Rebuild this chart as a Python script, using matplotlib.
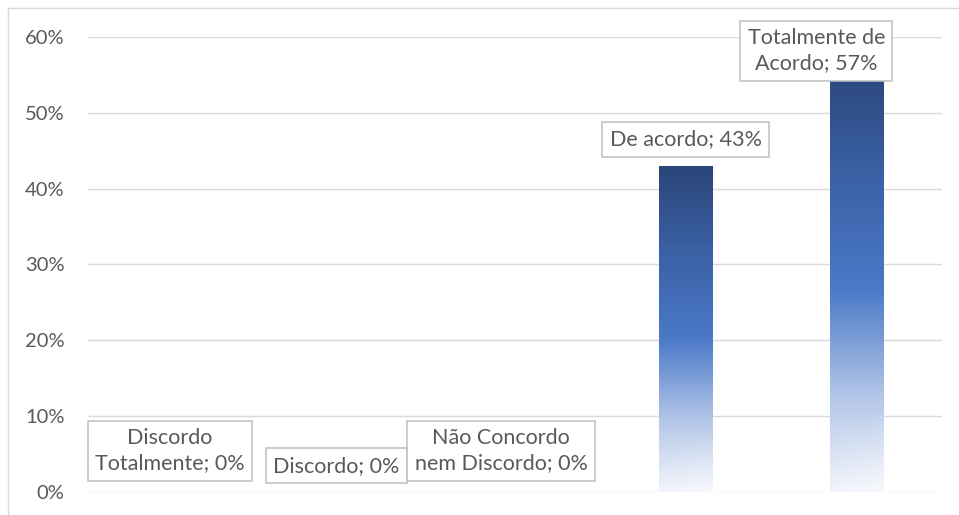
import numpy as np
import matplotlib
matplotlib.use('Agg')
import matplotlib.pyplot as plt
from matplotlib.colors import LinearSegmentedColormap
from matplotlib.lines import Line2D
from matplotlib.ticker import PercentFormatter

# ── Data ────────────────────────────────────────────────────────────────
categories = ['Discordo Totalmente', 'Discordo', 'Não Concordo nem Discordo',
              'De acordo', 'Totalmente de Acordo']
values = [0.0, 0.0, 0.0, 0.43, 0.57]
label_texts = ['Discordo\nTotalmente; 0%', 'Discordo; 0%',
               'Não Concordo\nnem Discordo; 0%', 'De acordo; 43%',
               'Totalmente de\nAcordo; 57%']
# label offsets (points) from the top of each bar, mimicking Excel placement
label_offsets = [(-2.5, 29.5), (-5.5, 19), (-10, 29.5), (0, 19), (-29, 6.5)]

plt.rcParams['font.family'] = ['Lato', 'DejaVu Sans']
TXT = '#595959'
GRID = '#D9D9D9'

fig = plt.figure(figsize=(9.59, 5.15), dpi=100)
ax = fig.add_axes([88 / 959, 23 / 515, 854 / 959, 455 / 515])

x = np.arange(len(categories))
bars = ax.bar(x, values, width=0.316, color='none', edgecolor='none', zorder=2)

# vertical gradient like the Excel fill: dark top -> blue -> near white bottom
grad = LinearSegmentedColormap.from_list(
    'xl', [(0.0, '#F2F5FB'), (0.22, '#B3C6E8'), (0.47, '#4A79C7'),
           (0.75, '#3A5FA3'), (1.0, '#2A4577')])
for b in bars:
    h = b.get_height()
    if h <= 0:
        continue
    x0, w = b.get_x(), b.get_width()
    g = np.linspace(0, 1, 256).reshape(-1, 1)
    # slight whitening toward bottom-right corner
    xx = np.linspace(0, 1, 32).reshape(1, -1)
    img = grad(g * np.ones_like(xx))
    fade = np.clip((0.18 - g) / 0.18, 0, 1) * xx * 0.35
    img[..., :3] = img[..., :3] + (1 - img[..., :3]) * fade[..., None]
    im = ax.imshow(img, extent=(x0, x0 + w, 0, h), origin='lower',
                   aspect='auto', zorder=2, interpolation='bilinear')
    im.set_clip_path(b)

for xi, v, txt, (dx, dy) in zip(x, values, label_texts, label_offsets):
    ax.annotate(txt, xy=(xi, v), xytext=(dx, dy), textcoords='offset points',
                ha='center', va='center', fontsize=15.5, color=TXT,
                linespacing=1.32, zorder=5, annotation_clip=False,
                bbox=dict(boxstyle='square,pad=0.34', fc='white',
                          ec='#BFBFBF', lw=1.1))

ax.set_xlim(-0.5, len(categories) - 0.5)
ax.set_ylim(0, 0.6)
ax.set_yticks(np.arange(0, 0.61, 0.1))
ax.yaxis.set_major_formatter(PercentFormatter(1.0, decimals=0))
ax.tick_params(axis='y', length=0, pad=17, labelsize=14.5, labelcolor=TXT)
ax.set_xticks([])
ax.grid(axis='y', color=GRID, lw=1.0, zorder=0)
ax.set_axisbelow(True)
for s in ax.spines.values():
    s.set_visible(False)

# chart area border (only left and top visible in the crop)
fig.add_artist(Line2D([7.5 / 959, 7.5 / 959], [0, 1 - 8 / 515],
                      color=GRID, lw=1.0, transform=fig.transFigure))
fig.add_artist(Line2D([7.5 / 959, 1], [1 - 8 / 515, 1 - 8 / 515],
                      color=GRID, lw=1.0, transform=fig.transFigure))

fig.savefig('out.png', dpi=100)
